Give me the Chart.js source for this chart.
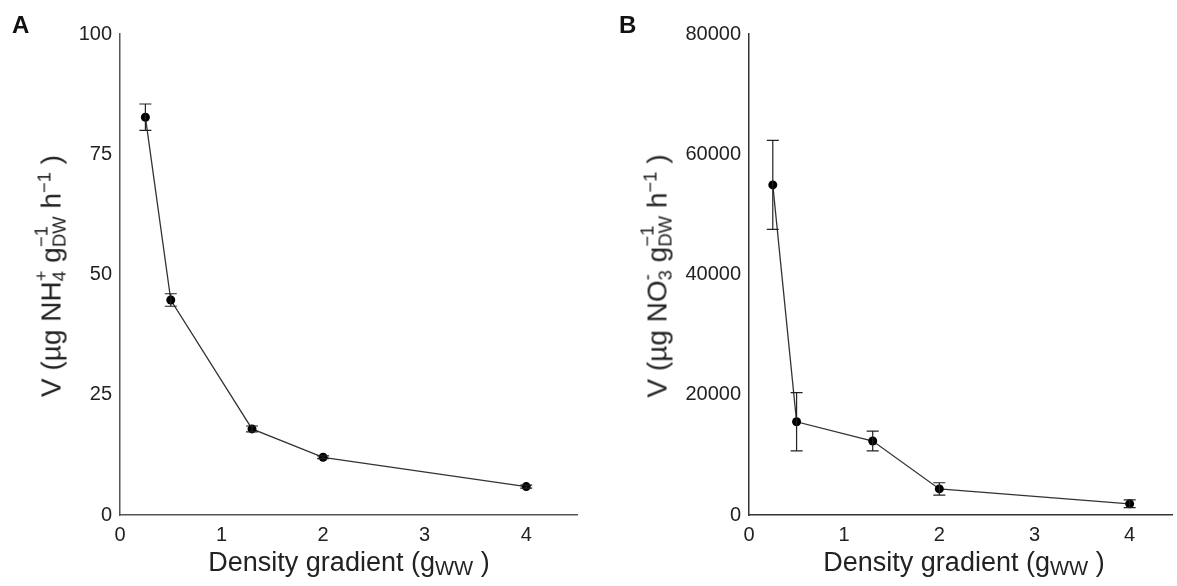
<!DOCTYPE html>
<html>
<head>
<meta charset="utf-8">
<script src="https://cdn.jsdelivr.net/npm/chart.js@4/dist/chart.umd.min.js"></script>
<style>
    body { margin: 0; background: #fff; width: 1177px; height: 586px; overflow: hidden; position: relative; font-family: 'Liberation Sans', Arial, sans-serif; color: #222; }
    .panel { position: absolute; top: 0; height: 586px; }
    .letter { position: absolute; font-weight: bold; font-size: 24px; line-height: 1; color: #111; }
    .ytitle { position: absolute; font-size: 28px; white-space: nowrap; transform: translate(-50%, -50%) rotate(-90deg); line-height: 1; }
    .xtitle { position: absolute; font-size: 27px; white-space: nowrap; transform: translateX(-50%); line-height: 1; }
    .ss { display: inline-block; vertical-align: -0.28em; font-size: 0.66em; line-height: 1; text-align: left; }
    .ss span { display: block; }
    .sup { font-size: 0.66em; vertical-align: 0.55em; }
    .sub { font-size: 0.75em; vertical-align: -0.2em; }
</style>
</head>
<body>
<div class="panel" style="left:0;width:600px"><canvas id="chartA" width="600" height="586"></canvas></div>
<div class="panel" style="left:600px;width:577px"><canvas id="chartB" width="577" height="586"></canvas></div>

<div class="letter" style="left:12px;top:13px">A</div>
<div class="letter" style="left:619px;top:13px">B</div>

<div class="ytitle" style="left:51px;top:276px">V (µg NH<span class="ss"><span>+</span><span>4</span></span> g<span class="ss"><span>−1</span><span>DW</span></span> h<span class="sup">−1</span> )</div>
<div class="ytitle" style="left:657px;top:276px">V (µg NO<span class="ss"><span>-</span><span>3</span></span> g<span class="ss"><span>−1</span><span>DW</span></span> h<span class="sup">−1</span> )</div>

<div class="xtitle" style="left:349px;top:549px">Density gradient (g<span class="sub">WW</span> )</div>
<div class="xtitle" style="left:964px;top:549px">Density gradient (g<span class="sub">WW</span> )</div>

<script>
/* ─── Data ───────────────────────────────────── */
const density = [0.25, 0.5, 1.3, 2, 4];

const ammoniumV = [82.7, 44.7, 17.9, 12.0, 5.9];
const ammoniumErr = [2.75, 1.3, 0.6, 0.3, 0.3];

const nitrateV = [54900, 15500, 12300, 4340, 1860];
const nitrateErr = [7400, 4850, 1640, 1020, 650];

const xTicks = [0, 1, 2, 3, 4];
const yTicksA = [0, 25, 50, 75, 100];
const yTicksB = [0, 20000, 40000, 60000, 80000];

/* ─── Error bar plugin ───────────────────────── */
const errorBarPlugin = {
    id: 'errorBars',
    afterDatasetsDraw(chart, args, opts) {
        const ctx = chart.ctx;
        const xs = chart.scales.x, ys = chart.scales.y;
        const ds = chart.data.datasets[0].data;
        ctx.save();
        ctx.strokeStyle = '#222';
        ctx.lineWidth = 1.2;
        ds.forEach((p, i) => {
            const e = opts.err[i];
            const px = xs.getPixelForValue(p.x);
            const top = ys.getPixelForValue(p.y + e);
            const bot = ys.getPixelForValue(p.y - e);
            ctx.beginPath();
            ctx.moveTo(px, top); ctx.lineTo(px, bot);
            ctx.moveTo(px - 6, top); ctx.lineTo(px + 6, top);
            ctx.moveTo(px - 6, bot); ctx.lineTo(px + 6, bot);
            ctx.stroke();
        });
        ctx.restore();
    }
};

const tickFont = { family: "'Liberation Sans', Arial, sans-serif", size: 20 };

function makeChart(canvasId, values, errs, yTicks, yMax, xMax, leftWidth, rightPad, axisColor) {
    const ctx = document.getElementById(canvasId);
    return new Chart(ctx.getContext('2d'), {
        type: 'line',
        data: {
            datasets: [{
                data: density.map((x, i) => ({ x: x, y: values[i] })),
                borderColor: '#333',
                borderWidth: 1.3,
                tension: 0,
                pointRadius: 4.5,
                pointBackgroundColor: '#000',
                pointBorderWidth: 0,
                clip: false
            }]
        },
        options: {
            responsive: false,
            animation: false,
            layout: { padding: { top: 34, right: rightPad, left: 0, bottom: 0 } },
            plugins: {
                legend: { display: false },
                tooltip: { enabled: false },
                errorBars: { err: errs }
            },
            scales: {
                x: {
                    type: 'linear',
                    min: 0,
                    max: xMax,
                    grid: { display: false },
                    border: { display: true, color: axisColor, width: 1.5 },
                    afterBuildTicks: s => { s.ticks = xTicks.map(v => ({ value: v })); },
                    afterFit: s => { s.height = 71; },
                    ticks: { font: tickFont, color: '#222', padding: 0, maxRotation: 0, callback: v => String(v) }
                },
                y: {
                    type: 'linear',
                    min: 0,
                    max: yMax,
                    grid: { display: false },
                    border: { display: true, color: axisColor, width: 1.5 },
                    afterBuildTicks: s => { s.ticks = yTicks.map(v => ({ value: v })); },
                    afterFit: s => { s.width = leftWidth; },
                    ticks: { font: tickFont, color: '#222', padding: 0, callback: v => String(v) }
                }
            }
        },
        plugins: [errorBarPlugin]
    });
}

makeChart('chartA', ammoniumV, ammoniumErr, yTicksA, 100, 4.5, 120, 23, '#555');
makeChart('chartB', nitrateV, nitrateErr, yTicksB, 80000, 4.45, 149, 0, '#333');
</script>
</body>
</html>
